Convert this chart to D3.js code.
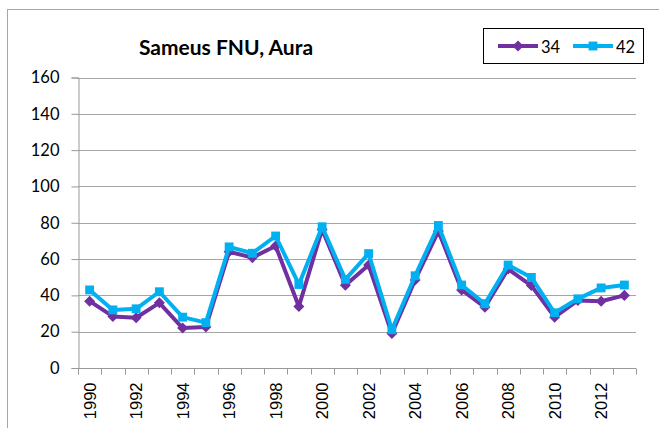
<!DOCTYPE html>
<html>
<head>
<meta charset="utf-8">
<script src="https://cdn.jsdelivr.net/npm/d3@7"></script>
<style>
  body { margin: 0; background: #fff; }
  svg text { font-family: Lato, "Open Sans", sans-serif; fill: #000; }
</style>
</head>
<body>
<div id="container"></div>
<script>
// data
var years = d3.range(1990, 2014);
var s34 = [36.8, 28.4, 27.7, 35.9, 22, 22.6, 64, 60.8, 67.2, 33.9, 76.3, 45.6,
           56.7, 19, 48.5, 75.4, 43, 33.5, 54.5, 45.4, 28, 37.2, 36.8, 40];
var s42 = [43, 32, 32.6, 42, 28, 25, 66.7, 63.2, 72.7, 46, 77.8, 48.8,
           63, 21.1, 50.8, 78.5, 45.7, 35.4, 56.7, 49.9, 30.4, 38.1, 44.1, 45.7];
var seriesNames = ["34", "42"];
var yTicks = [0, 20, 40, 60, 80, 100, 120, 140, 160];
var title = "Sameus FNU, Aura";

let width = 659;
let height = 428;
var svg = d3.select("#container").append("svg");
svg.attr("width", width).attr("height", height);

// outer chart frame (runs off right/bottom)
svg.append("rect")
  .attr("x", 7.5).attr("y", 9.5)
  .attr("width", 700).attr("height", 500)
  .attr("fill", "none").attr("stroke", "#a6a6a6");

var x = d3.scaleBand().domain(years).range([78, 636]);
var y = d3.scaleLinear().domain([0, 160]).range([368, 77.5]);

// gridlines
svg.append("g")
  .selectAll("line")
  .data(yTicks.filter(function(d) { return d > 0; }))
  .enter().append("line")
  .attr("x1", 78).attr("x2", 636)
  .attr("y1", function(d) { return Math.round(y(d)) + 0.5; })
  .attr("y2", function(d) { return Math.round(y(d)) + 0.5; })
  .attr("stroke", "#a6a6a6").attr("stroke-width", 1.2);

// y axis
var yAxis = svg.append("g")
  .attr("transform", "translate(78.5,0)")
  .call(d3.axisLeft(y).tickValues(yTicks).tickSize(7).tickPadding(12));
yAxis.select(".domain").attr("stroke", "#999");
yAxis.selectAll(".tick line").attr("stroke", "#999");
yAxis.selectAll("text").style("font-size", "16.5px").attr("fill", "#000");

// x axis
var xAxis = svg.append("g")
  .attr("transform", "translate(0," + (Math.round(y(0)) + 0.5) + ")");
xAxis.append("line")
  .attr("x1", 78).attr("x2", 636)
  .attr("stroke", "#999");
xAxis.selectAll(".xt")
  .data(years.concat([null]))
  .enter().append("line")
  .attr("x1", function(d, i) { return Math.round(78 + i * x.step()) + 0.5; })
  .attr("x2", function(d, i) { return Math.round(78 + i * x.step()) + 0.5; })
  .attr("y1", 0).attr("y2", 6)
  .attr("stroke", "#999");
xAxis.selectAll(".xl")
  .data(years.filter(function(d) { return d % 2 == 0; }))
  .enter().append("text")
  .attr("transform", function(d) {
    return "translate(" + (x(d) + x.bandwidth() / 2) + ",14) rotate(-90)";
  })
  .attr("text-anchor", "end")
  .attr("dy", "0.36em")
  .style("font-family", "'Liberation Sans', Arial, sans-serif")
  .style("font-size", "16.5px")
  .text(function(d) { return d; });

var cx = function(d, i) { return x(years[i]) + x.bandwidth() / 2; };
var line = d3.line().x(cx).y(function(d) { return y(d); });

var colors = ["#7030a0", "#00b0f0"];
var allSeries = [s34, s42];
var marker = [d3.symbol().type(d3.symbolDiamond2).size(78)(),
              d3.symbol().type(d3.symbolSquare2).size(100)()];

allSeries.forEach(function(vals, k) {
  var g = svg.append("g");
  g.append("path")
    .datum(vals)
    .attr("d", line)
    .attr("fill", "none")
    .attr("stroke", colors[k])
    .attr("stroke-width", 4)
    .attr("stroke-linejoin", "round");
  g.selectAll("path.m")
    .data(vals).enter().append("path")
    .attr("class", "m")
    .attr("transform", function(d, i) { return "translate(" + cx(d, i) + "," + y(d) + ")"; })
    .attr("d", marker[k])
    .attr("fill", colors[k]);
});

// title
svg.append("text")
  .attr("x", 226).attr("y", 55)
  .attr("text-anchor", "middle")
  .style("font-size", "21px")
  .style("font-weight", "bold")
  .text(title);

// legend
var leg = svg.append("g");
leg.append("rect")
  .attr("x", 483.5).attr("y", 28.5).attr("width", 160).attr("height", 35)
  .attr("fill", "#fff").attr("stroke", "#000");
var legX = [498, 573];
seriesNames.forEach(function(name, k) {
  leg.append("line")
    .attr("x1", legX[k]).attr("x2", legX[k] + 40)
    .attr("y1", 46).attr("y2", 46)
    .attr("stroke", colors[k]).attr("stroke-width", 4);
  leg.append("path")
    .attr("transform", "translate(" + (legX[k] + 20) + ",46)")
    .attr("d", marker[k])
    .attr("fill", colors[k]);
  leg.append("text")
    .attr("x", legX[k] + 43).attr("y", 53)
    .style("font-size", "16.5px")
    .text(name);
});
</script>
</body>
</html>
